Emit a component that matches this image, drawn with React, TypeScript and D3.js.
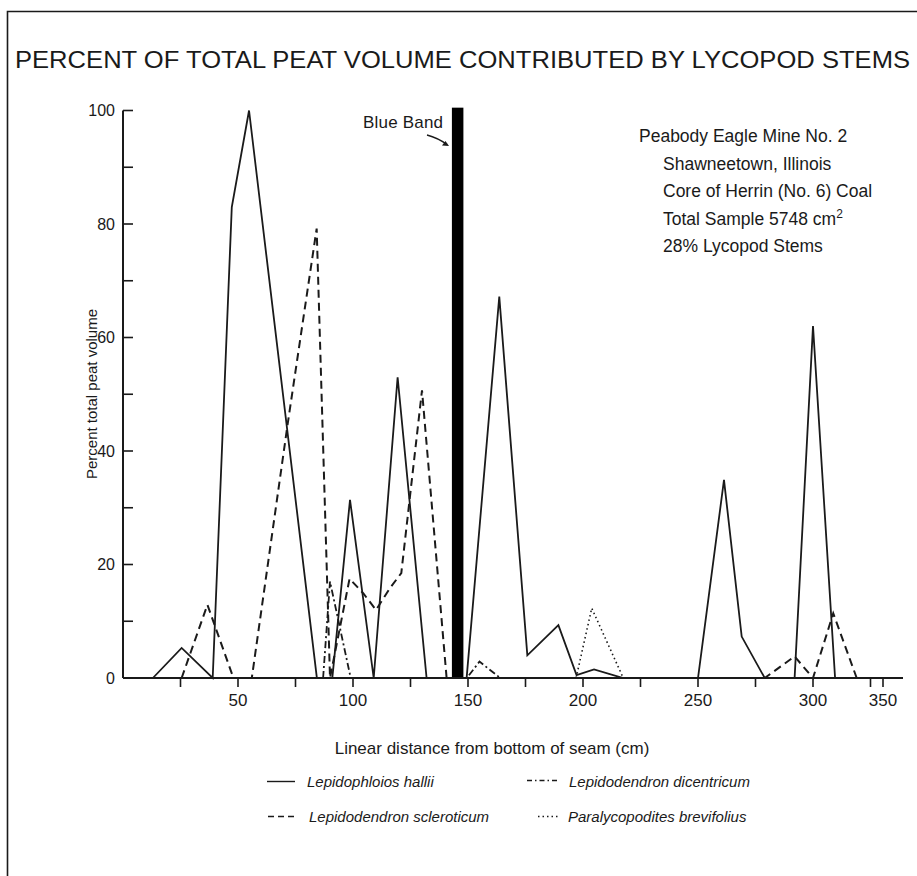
import React from "react";
import * as d3 from "d3";

// ---- data (x = linear distance from bottom of seam, cm; y = percent) ----
const halliiX = [13, 25.5, 39, 47.3, 54.8, 84.3, 91, 98.7, 109, 119.4, 132, 149.4, 163.6, 175.8, 189.3, 197.2, 204.8, 217.5, 250, 261.3, 269, 279, 292, 300, 309.6];
const halliiY = [0, 5.3, 0, 83, 100, 0, 0, 31.4, 0, 53, 0, 0, 67.2, 4, 9.3, 0.5, 1.5, 0, 0, 34.9, 7.3, 0, 0, 62, 0];

const scleroticumX = [25.5, 36.7, 48, 56, 71.5, 84.2, 90, 98.5, 104.5, 110, 116, 121, 130, 140.7, 279, 292, 300, 308.8, 319];
const scleroticumY = [0, 12.9, 0, 0, 44.5, 79.2, 0, 17.5, 14.9, 12, 15.8, 18.5, 50.7, 0, 0, 3.8, 0, 11.4, 0];

const dicentricumX = [87, 90, 99, 149.5, 155, 164];
const dicentricumY = [0, 17, 0, 0, 2.9, 0];

const brevifoliusX = [197, 203.8, 217.5];
const brevifoliusY = [0, 12.3, 0];

const blueBand = [143, 148]; // cm extent of the Blue Band
const blueBandTop = 100.5;

const xTicks = [25, 50, 75, 100, 125, 150, 175, 200, 225, 250, 275, 300, 325, 350];
const xTickLabels = [50, 100, 150, 200, 250, 300, 350];
const yTicks = [0, 10, 20, 30, 40, 50, 60, 70, 80, 90, 100];
const yTickLabels = [0, 20, 40, 60, 80, 100];

const legendNames = [
  "Lepidophloios hallii",
  "Lepidodendron dicentricum",
  "Lepidodendron scleroticum",
  "Paralycopodites brevifolius",
];

const infoLines = [
  "Peabody Eagle Mine No. 2",
  "Shawneetown, Illinois",
  "Core of Herrin (No. 6) Coal",
  "Total Sample 5748 cm",
  "28% Lycopod Stems",
];

const FONT = "'Liberation Sans', Arial, Helvetica, sans-serif";
const INK = "#1a1a1a";

export default function App() {
  const W = 917;
  const H = 876;

  // compressed axis end (350 is squeezed next to 325 in the original)
  const x = d3.scaleLinear().domain([0, 325, 350, 390]).range([123, 870.5, 883, 903]);
  const y = d3.scaleLinear().domain([0, 100]).range([678, 110.5]);

  const line = d3
    .line<[number, number]>()
    .x((d) => x(d[0]))
    .y((d) => y(d[1]));

  const zip = (xs: number[], ys: number[]) => xs.map((v, i) => [v, ys[i]] as [number, number]);

  const series = [
    { name: legendNames[0], pts: zip(halliiX, halliiY), dash: "none", w: 1.8 },
    { name: legendNames[2], pts: zip(scleroticumX, scleroticumY), dash: "8,5", w: 2 },
    { name: legendNames[1], pts: zip(dicentricumX, dicentricumY), dash: "7,3,2,3", w: 1.8 },
    { name: legendNames[3], pts: zip(brevifoliusX, brevifoliusY), dash: "1.5,3", w: 1.6 },
  ];

  const legend = [
    { name: legendNames[0], dash: "none", x1: 267, x2: 295, ly: 781.5, tx: 307, ty: 786.5 },
    { name: legendNames[1], dash: "5,3,1.5,3", x1: 527, x2: 557, ly: 780.5, tx: 569, ty: 786.5 },
    { name: legendNames[2], dash: "6,4", x1: 268, x2: 297, ly: 816.5, tx: 309, ty: 821.5 },
    { name: legendNames[3], dash: "1.5,3", x1: 538, x2: 558, ly: 816.5, tx: 568, ty: 821.5 },
  ];

  return (
    <svg
      width={W}
      height={H}
      style={{ position: "absolute", left: 0, top: 0, background: "#fff" }}
      fontFamily={FONT}
    >
      <rect x={0} y={0} width={W} height={H} fill="#fff" />
      {/* frame */}
      <path d="M7.5,876 V11.5 H917" fill="none" stroke={INK} strokeWidth={1.6} />

      {/* title */}
      <text x={15} y={68} fontSize={24} textLength={895} lengthAdjust="spacingAndGlyphs" fill={INK}>
        PERCENT OF TOTAL PEAT VOLUME CONTRIBUTED BY LYCOPOD STEMS
      </text>

      {/* blue band */}
      <rect
        x={x(blueBand[0])}
        y={y(blueBandTop)}
        width={x(blueBand[1]) - x(blueBand[0])}
        height={y(0) - y(blueBandTop)}
        fill="#000"
      />
      <text x={363} y={128} fontSize={17} textLength={80} fill={INK}>
        Blue Band
      </text>
      <path d="M427,135 Q438,138 447,144.5" fill="none" stroke={INK} strokeWidth={1.3} />
      <path d="M449,146 L442,145.5 L445.5,141 Z" fill={INK} />

      {/* info block */}
      {infoLines.map((t, i) => (
        <text key={t} x={i === 0 ? 639 : 663} y={142 + i * 27.5} fontSize={17.5} fill={INK}>
          {t}
          {i === 3 ? (
            <tspan dy={-7} fontSize={12}>
              2
            </tspan>
          ) : null}
        </text>
      ))}

      {/* series */}
      {series.map((s) => (
        <path
          key={s.name}
          d={line(s.pts) || ""}
          fill="none"
          stroke={INK}
          strokeWidth={s.w}
          strokeDasharray={s.dash}
          strokeLinejoin="miter"
        />
      ))}

      {/* axes */}
      <line x1={x(0)} x2={x(0)} y1={y(0)} y2={y(100)} stroke={INK} strokeWidth={2} />
      <line x1={x(0)} x2={x(390)} y1={y(0)} y2={y(0)} stroke={INK} strokeWidth={2} />
      {yTicks.map((t) => (
        <line key={"yt" + t} x1={x(0)} x2={x(0) + 10} y1={y(t)} y2={y(t)} stroke={INK} strokeWidth={1.6} />
      ))}
      {yTickLabels.map((t) => (
        <text key={"yl" + t} x={115} y={y(t)} dy="0.35em" textAnchor="end" fontSize={16} fill={INK}>
          {t}
        </text>
      ))}
      {xTicks.map((t) => (
        <line key={"xt" + t} x1={x(t)} x2={x(t)} y1={y(0)} y2={y(0) + 9} stroke={INK} strokeWidth={1.6} />
      ))}
      {xTickLabels.map((t) => (
        <text key={"xl" + t} x={x(t)} y={706} textAnchor="middle" fontSize={17} fill={INK}>
          {t}
        </text>
      ))}

      {/* axis titles */}
      <text
        transform="translate(97,394) rotate(-90)"
        textAnchor="middle"
        fontSize={15}
        fill={INK}
      >
        Percent total peat volume
      </text>
      <text x={492} y={754} textAnchor="middle" fontSize={17} fill={INK}>
        Linear distance from bottom of seam (cm)
      </text>

      {/* legend */}
      {legend.map((l) => (
        <g key={l.name}>
          <line x1={l.x1} x2={l.x2} y1={l.ly} y2={l.ly} stroke={INK} strokeWidth={1.4} strokeDasharray={l.dash} />
          <text x={l.tx} y={l.ty} fontSize={15} fontStyle="italic" fill={INK}>
            {l.name}
          </text>
        </g>
      ))}
    </svg>
  );
}
